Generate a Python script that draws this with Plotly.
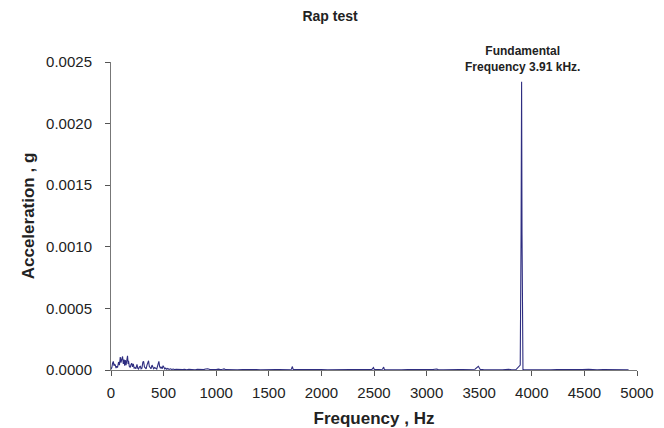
import plotly.graph_objects as go

# Frequency (Hz) and acceleration (micro-g)
freq_hz = [
    0, 8, 15, 22, 28, 35, 41, 48, 55, 62, 72, 80, 88, 95, 103, 110, 117, 124, 130, 136,
    143, 150, 157, 163, 167, 174, 182, 190, 197, 204, 212, 220, 228, 236, 247, 254, 262, 270,
    279, 286, 294, 303, 310, 318, 326, 334, 342, 350, 357, 364, 372, 380, 390, 398, 405, 415,
    425, 435, 447, 455, 462, 470, 478, 486, 495, 503, 512, 520, 530, 540, 552, 565, 578, 590,
    605, 620, 640, 660, 680, 700, 720, 740, 760, 780, 800, 820, 840, 860, 880, 900, 920, 940,
    960, 980, 1000, 1020, 1040, 1060, 1075, 1090, 1110, 1150, 1200, 1250, 1280, 1320, 1380,
    1420, 1460, 1500, 1560, 1600, 1650, 1700, 1715, 1723, 1732, 1760, 1800, 1850, 1900, 1950,
    2000, 2060, 2120, 2180, 2240, 2300, 2360, 2420, 2480, 2495, 2503, 2512, 2540, 2580, 2592,
    2598, 2606, 2640, 2700, 2760, 2820, 2880, 2940, 3000, 3060, 3095, 3102, 3110, 3160, 3220,
    3280, 3340, 3400, 3460, 3492, 3501, 3510, 3540, 3600, 3660, 3720, 3780, 3795, 3810, 3850,
    3890, 3898, 3903, 3907, 3911, 3916, 3924, 3960, 4000, 4060, 4120, 4180, 4240, 4300, 4360,
    4420, 4480, 4540, 4585, 4620, 4680, 4740, 4800, 4860, 4920, 5000,
]
accel_ug = [
    5, 20, 55, 70, 35, 45, 40, 15, 30, 20, 65, 40, 105, 60, 90, 110, 50, 85, 35, 80,
    40, 100, 115, 50, 75, 30, 20, 45, 55, 25, 50, 15, 20, 10, 45, 15, 8, 25,
    30, 10, 15, 65, 70, 25, 15, 10, 40, 55, 75, 30, 20, 10, 40, 15, 10, 20,
    12, 8, 45, 70, 30, 15, 25, 10, 35, 20, 8, 15, 6, 12, 5, 10, 4, 8,
    3, 6, 4, 7, 3, 5, 2, 6, 3, 4, 2, 5, 3, 6, 3, 8, 10, 4,
    3, 5, 4, 7, 3, 6, 9, 3, 2, 3, 2, 3, 4, 2, 3,
    2, 3, 2, 4, 2, 3, 5, 6, 28, 5, 3, 4, 2, 3,
    2, 3, 2, 3, 2, 3, 2, 3, 3, 5, 20, 4, 3, 3, 6,
    24, 4, 3, 2, 3, 2, 3, 2, 3, 2, 4, 8, 3, 3, 2,
    3, 2, 3, 4, 6, 30, 8, 4, 3, 2, 3, 2, 6, 3, 2,
    4, 40, 1100, 2340, 1100, 40, 4, 3, 2, 3, 2, 3, 2, 3, 2,
    3, 2, 4, 6, 3, 2, 3, 2, 3, 2, 2,
]
accel_g = [v * 1e-6 for v in accel_ug]

x_ticks = [0, 500, 1000, 1500, 2000, 2500, 3000, 3500, 4000, 4500, 5000]
y_ticks = [0.0, 0.0005, 0.0010, 0.0015, 0.0020, 0.0025]
y_labels = ["0.0000", "0.0005", "0.0010", "0.0015", "0.0020", "0.0025"]

font_family = "Liberation Sans, Arial, sans-serif"

# page has an 8px body margin, so the figure is sized to fit the window
fig_w, fig_h = 656, 420

fig = go.Figure(
    go.Scatter(
        x=freq_hz, y=accel_g, mode="lines",
        line=dict(color="#2e2d80", width=1.1),
        hoverinfo="skip",
    )
)

fig.update_layout(
    width=fig_w, height=fig_h,
    margin=dict(l=103, r=27, t=54, b=58),
    paper_bgcolor="white", plot_bgcolor="white",
    showlegend=False,
    font=dict(family=font_family, color="#222222", size=15),
    title=dict(text="<b>Rap test</b>", x=322 / fig_w, xref="container", y=1 - 8 / fig_h,
               yref="container", xanchor="center", yanchor="middle",
               font=dict(size=14, color="#222222")),
)

fig.update_xaxes(
    range=[0, 5000], tickvals=x_ticks, ticks="outside", ticklen=5, tickcolor="#555555",
    showline=True, linecolor="#777777", linewidth=1, showgrid=False, zeroline=False,
    automargin=False, ticklabelstandoff=4,
    title=dict(text="<b>Frequency , Hz</b>", font=dict(size=17), standoff=17),
    tickfont=dict(size=15),
)
fig.update_yaxes(
    range=[0, 0.0025], tickvals=y_ticks, ticktext=y_labels, ticks="outside", ticklen=5,
    tickcolor="#555555", showline=True, linecolor="#777777", linewidth=1, showgrid=False,
    zeroline=False, ticklabelstandoff=10, automargin=False,
    title=dict(text="<b>Acceleration , g</b>", font=dict(size=17), standoff=7),
    tickfont=dict(size=15),
)

fig.add_annotation(
    x=3907, y=0.00234, xref="x", yref="y",
    text="<b>Fundamental<br>Frequency 3.91 kHz.</b>",
    showarrow=False, yanchor="bottom", yshift=6,
    font=dict(size=12, color="#222222"),
)

fig.write_html("out.html")
